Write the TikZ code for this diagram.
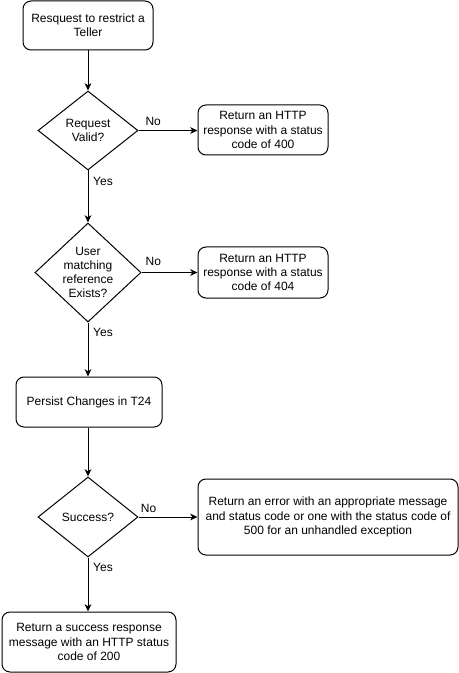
\documentclass[tikz,border=0pt]{standalone}
\usepackage{fontspec}
\setmainfont{Liberation Sans}
\usetikzlibrary{shapes.geometric,arrows.meta}
\begin{document}
\begin{tikzpicture}[x=0.75pt,y=-0.75pt,
  every node/.style={font=\fontsize{9}{10.6}\selectfont},
  box/.style={draw, line width=0.75pt, rounded corners=6pt, align=center, inner sep=0pt},
  dia/.style={draw, line width=0.75pt, diamond, inner sep=0pt},
  txt/.style={align=center, inner sep=0pt},
  lbl/.style={inner sep=0pt},
  conn/.style={line width=0.75pt, -{Stealth[length=5.5pt,width=5pt,inset=1.6pt]}}
]
\useasboundingbox (0,0) rectangle (459,673);

\node[box, minimum width=97.5pt, minimum height=36.75pt] (b1) at (88,25.5) {Resquest to restrict a\\Teller};

\node[dia, minimum width=75pt, minimum height=59.25pt] (d1) at (88,130.5) {};
\node[txt] (t1) at (88,130.5) {Request\\Valid?};

\node[box, minimum width=97.5pt, minimum height=37.5pt] (r400) at (263,130) {Return an HTTP\\response with a status\\code of 400};

\node[dia, minimum width=79.5pt, minimum height=74.25pt] (d2) at (88,272.5) {};
\node[txt] (t2) at (88,272.5) {User\\matching\\reference\\Exists?};

\node[box, minimum width=97.5pt, minimum height=38.25pt] (r404) at (263,272.5) {Return an HTTP\\response with a status\\code of 404};

\node[box, minimum width=109.5pt, minimum height=37.5pt] (p) at (89,402) {Persist Changes in T24};

\node[dia, minimum width=75pt, minimum height=60pt] (d3) at (88,517) {};
\node[txt] (t3) at (88,517) {Success?};

\node[box, minimum width=195pt, minimum height=57pt] (err) at (328,517) {Return an error with an appropriate message\\and status code or one with the status code of\\500 for an unhandled exception};

\node[box, minimum width=130.5pt, minimum height=45pt] (fin) at (89,642) {Return a success response\\message with an HTTP status\\code of 200};

\draw[conn] (b1.south -| d1.north) -- (d1.north);
\draw[conn] (d1.east) -- (r400.west |- d1.east) node[lbl, pos=0.25, yshift=6.75pt] (no1) {No};
\draw[conn] (d1.south) -- (d2.north) node[lbl, pos=0.21, xshift=11.25pt] (yes1) {Yes};
\draw[conn] (d2.east) -- (r404.west |- d2.east) node[lbl, pos=0.21, yshift=8.25pt] (no2) {No};
\draw[conn] (d2.south) -- (p.north -| d2.south) node[lbl, pos=0.18, xshift=11.25pt] (yes2) {Yes};
\draw[conn] (p.south -| d3.north) -- (d3.north);
\draw[conn] (d3.east) -- (err.west |- d3.east) node[lbl, pos=0.17, yshift=6.75pt] (no3) {No};
\draw[conn] (d3.south) -- (fin.north -| d3.south) node[lbl, pos=0.18, xshift=11.25pt] (yes3) {Yes};
\end{tikzpicture}
\end{document}
